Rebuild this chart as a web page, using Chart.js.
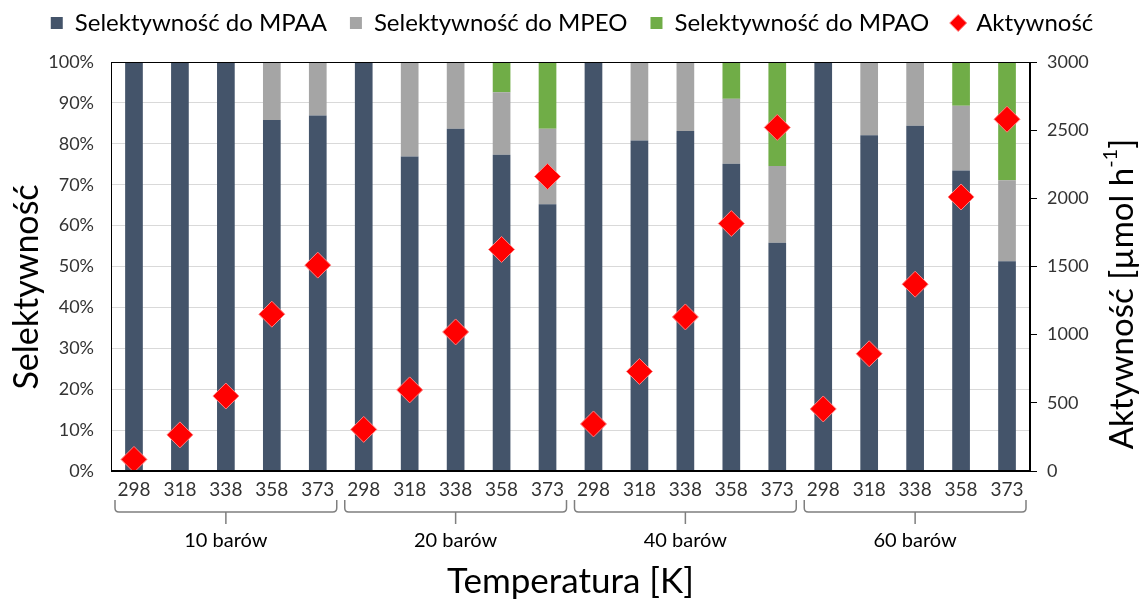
<!DOCTYPE html>
<html>
<head>
<meta charset="utf-8">
<script src="https://cdn.jsdelivr.net/npm/chart.js@4.4.1/dist/chart.umd.min.js"></script>
<style>
  html, body { margin: 0; padding: 0; background: #fff; }
  #wrap { width: 1144px; height: 603px; }
</style>
</head>
<body>
<div id="wrap"><canvas id="chart"></canvas></div>
<script>
// Data
const temps = ['298', '318', '338', '358', '373'];
const groups = ['10 barów', '20 barów', '40 barów', '60 barów'];
const mpaa = [100, 100, 100, 85.8, 86.9, 100, 76.9, 83.7, 77.3, 65.2, 100, 80.8, 83.1, 75.1, 55.8, 100, 82.1, 84.4, 73.5, 51.3];
const mpeo = [0, 0, 0, 14.2, 13.1, 0, 23.1, 16.3, 15.3, 18.5, 0, 19.2, 16.9, 15.9, 18.8, 0, 17.9, 15.6, 15.8, 19.8];
const mpao = [0, 0, 0, 0, 0, 0, 0, 0, 7.4, 16.3, 0, 0, 0, 9.0, 25.4, 0, 0, 0, 10.7, 28.9];
const aktywnosc = [85, 265, 550, 1150, 1510, 305, 595, 1020, 1625, 2160, 345, 730, 1130, 1815, 2520, 455, 860, 1370, 2010, 2580];

const labels = groups.flatMap(() => temps);
const FONT = 'Lato';

// make the legend box taller so the plot starts lower
const legendSpace = {
    id: 'legendSpace',
    beforeInit(chart) {
        const fit = chart.legend.fit;
        chart.legend.fit = function () {
            fit.call(this);
            this.height = 74;
        };
    }
};

// box round plot, braces + pressure labels, both y titles
const extras = {
    id: 'extras',
    afterDraw(chart) {
        const ctx = chart.ctx;
        const x = chart.scales.x;
        const area = chart.chartArea;
        const half = (x.getPixelForValue(1) - x.getPixelForValue(0)) / 2;
        ctx.save();

        ctx.strokeStyle = '#000';
        ctx.lineWidth = 1;
        ctx.strokeRect(area.left + 0.5, area.top + 0.5, area.width - 1, area.height - 1);

        // braces
        const y0 = 500, y1 = 512, yTip = 524, r = 4;
        ctx.strokeStyle = '#7f7f7f';
        ctx.lineWidth = 1.5;
        groups.forEach((g, i) => {
            const a = x.getPixelForValue(i * temps.length) - half + 4;
            const b = x.getPixelForValue(i * temps.length + temps.length - 1) + half - 4;
            const m = (a + b) / 2;
            ctx.beginPath();
            ctx.moveTo(a, y0);
            ctx.lineTo(a, y1 - r);
            ctx.quadraticCurveTo(a, y1, a + r, y1);
            ctx.lineTo(b - r, y1);
            ctx.quadraticCurveTo(b, y1, b, y1 - r);
            ctx.lineTo(b, y0);
            ctx.moveTo(m, y1);
            ctx.lineTo(m, yTip);
            ctx.stroke();

            ctx.fillStyle = '#000';
            ctx.font = '20px ' + FONT;
            ctx.textAlign = 'center';
            ctx.textBaseline = 'middle';
            ctx.fillText(g, m, 541);
        });

        ctx.fillStyle = '#000';
        ctx.textBaseline = 'middle';

        // left title
        ctx.save();
        ctx.translate(27, 287);
        ctx.rotate(-Math.PI / 2);
        ctx.textAlign = 'center';
        ctx.font = '34px ' + FONT;
        ctx.fillText('Selektywność', 0, 0);
        ctx.restore();

        // right title, read bottom to top, with superscript
        ctx.translate(1122, 294);
        ctx.rotate(-Math.PI / 2);
        const main = 'Aktywność [µmol h';
        const sup = '-1';
        const end = ']';
        ctx.font = '33px ' + FONT;
        const wMain = ctx.measureText(main).width;
        const wEnd = ctx.measureText(end).width;
        ctx.font = '20px ' + FONT;
        const wSup = ctx.measureText(sup).width;
        let sx = -(wMain + wSup + wEnd) / 2;
        ctx.textAlign = 'left';
        ctx.font = '33px ' + FONT;
        ctx.fillText(main, sx, 0);
        sx += wMain;
        ctx.font = '20px ' + FONT;
        ctx.fillText(sup, sx, -11);
        sx += wSup;
        ctx.font = '33px ' + FONT;
        ctx.fillText(end, sx, 0);
        ctx.restore();
    }
};

new Chart(document.getElementById('chart'), {
    data: {
        labels: labels,
        datasets: [
            {
                type: 'bar',
                label: 'Selektywność do MPAA',
                data: mpaa,
                backgroundColor: '#44546a',
                pointStyle: 'rect',
                order: 1
            },
            {
                type: 'bar',
                label: 'Selektywność do MPEO',
                data: mpeo,
                backgroundColor: '#a5a5a5',
                pointStyle: 'rect',
                order: 1
            },
            {
                type: 'bar',
                label: 'Selektywność do MPAO',
                data: mpao,
                backgroundColor: '#70ad47',
                pointStyle: 'rect',
                order: 1
            },
            {
                type: 'line',
                label: 'Aktywność',
                data: aktywnosc,
                yAxisID: 'y1',
                showLine: false,
                pointStyle: 'rectRot',
                pointRadius: 13,
                pointBackgroundColor: '#ff0000',
                pointBorderColor: '#ff8080',
                pointBorderWidth: 1,
                backgroundColor: '#ff0000',
                borderColor: '#ff0000',
                order: 0
            }
        ]
    },
    options: {
        responsive: true,
        maintainAspectRatio: false,
        animation: false,
        datasets: {
            bar: { barPercentage: 0.385, categoryPercentage: 1 }
        },
        layout: { padding: { left: 0, right: 0, top: -12, bottom: 0 } },
        plugins: {
            tooltip: { enabled: false },
            legend: {
                position: 'top',
                labels: {
                    usePointStyle: true,
                    boxWidth: 12,
                    boxHeight: 12,
                    padding: 23,
                    color: '#000',
                    font: { family: FONT, size: 24 },
                    sort: (a, b) => a.datasetIndex - b.datasetIndex
                }
            }
        },
        scales: {
            x: {
                stacked: true,
                afterFit: s => { s.height = 132; },
                grid: { display: false, drawTicks: false },
                border: { display: true, color: '#000' },
                ticks: {
                    autoSkip: false,
                    maxRotation: 0,
                    padding: 7,
                    color: '#333',
                    font: { family: FONT, size: 19 }
                },
                title: {
                    display: true,
                    text: 'Temperatura [K]',
                    color: '#000',
                    font: { family: FONT, size: 35 },
                    padding: { top: 0, bottom: 0 }
                }
            },
            y: {
                stacked: true,
                min: 0,
                max: 100,
                afterFit: s => { s.width = 111; },
                grid: { color: '#d9d9d9', drawTicks: false },
                border: { display: true, color: '#000' },
                ticks: {
                    stepSize: 10,
                    padding: 17,
                    color: '#333',
                    font: { family: FONT, size: 18 },
                    callback: v => v + '%'
                }
            },
            y1: {
                position: 'right',
                min: 0,
                max: 3000,
                afterFit: s => { s.width = 114; },
                grid: { drawOnChartArea: false, drawTicks: true, tickLength: 7, color: '#000' },
                border: { display: true, color: '#000' },
                ticks: {
                    stepSize: 500,
                    padding: 10,
                    color: '#333',
                    font: { family: FONT, size: 18 },
                    callback: v => String(v)
                }
            }
        }
    },
    plugins: [legendSpace, extras]
});
</script>
</body>
</html>
